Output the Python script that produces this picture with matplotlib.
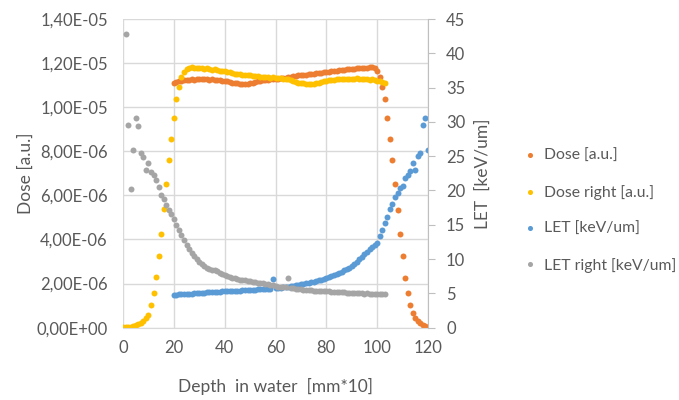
import matplotlib
matplotlib.use("Agg")
import matplotlib.pyplot as plt
from matplotlib.ticker import FuncFormatter, MultipleLocator

plt.rcParams['font.family'] = ['Lato', 'DejaVu Sans']

# ---- data ----
dose_right_x = list(range(0, 104))
dose_right = [  # units of 1e-6
    0.02, 0.02, 0.03, 0.05, 0.07, 0.10, 0.15, 0.22, 0.31, 0.42,
    0.58, 1.03, 1.59, 2.29, 3.26, 4.26, 5.38, 6.53, 7.62, 8.58,
    9.49, 10.38, 10.92, 11.35, 11.58, 11.72, 11.80, 11.82, 11.78, 11.80,
    11.77, 11.78, 11.74, 11.76, 11.72, 11.70, 11.71, 11.67, 11.66, 11.63,
    11.62, 11.60, 11.58, 11.57, 11.52, 11.50, 11.51, 11.47, 11.48, 11.45,
    11.44, 11.42, 11.40, 11.41, 11.38, 11.37, 11.36, 11.37, 11.34, 11.35,
    11.34, 11.33, 11.32, 11.30, 11.28, 11.26, 11.22, 11.18, 11.15, 11.12,
    11.10, 11.08, 11.06, 11.04, 11.06, 11.05, 11.08, 11.10, 11.14, 11.17,
    11.20, 11.22, 11.24, 11.25, 11.27, 11.26, 11.28, 11.27, 11.29, 11.30,
    11.28, 11.30, 11.31, 11.29, 11.30, 11.28, 11.27, 11.25, 11.26, 11.22,
    11.20, 11.18, 11.15, 11.12,
]

dose_x = list(range(20, 121))
dose = [  # units of 1e-6
    11.08, 11.15, 11.18, 11.20, 11.22, 11.24, 11.25, 11.26, 11.25, 11.27,
    11.26, 11.28, 11.27, 11.26, 11.25, 11.26, 11.24, 11.22, 11.22, 11.20,
    11.18, 11.17, 11.14, 11.12, 11.10, 11.08, 11.07, 11.05, 11.05, 11.06,
    11.08, 11.10, 11.14, 11.18, 11.20, 11.22, 11.24, 11.25, 11.27, 11.28,
    11.29, 11.30, 11.31, 11.32, 11.34, 11.36, 11.38, 11.40, 11.42, 11.44,
    11.45, 11.47, 11.48, 11.50, 11.51, 11.52, 11.54, 11.55, 11.57, 11.58,
    11.60, 11.61, 11.62, 11.64, 11.66, 11.67, 11.68, 11.70, 11.71, 11.72,
    11.73, 11.74, 11.76, 11.77, 11.78, 11.79, 11.80, 11.82, 11.84, 11.80,
    11.62, 11.35,
    10.90, 10.38, 9.50, 8.56, 7.62, 6.53, 5.35, 4.26, 3.23, 2.27,
    1.59, 1.03, 0.67, 0.45, 0.30, 0.20, 0.12, 0.06, 0.03,
]

let_x = list(range(20, 121))
let = [
    4.80, 4.82, 4.85, 4.88, 4.90, 4.95, 4.93, 4.98, 5.00, 5.05,
    5.08, 5.10, 5.12, 5.15, 5.18, 5.20, 5.22, 5.25, 5.27, 5.30,
    5.33, 5.35, 5.36, 5.38, 5.40, 5.40, 5.42, 5.44, 5.46, 5.48,
    5.50, 5.52, 5.55, 5.57, 5.60, 5.62, 5.64, 5.66, 5.70, 7.10,
    5.75, 5.80, 5.85, 5.90, 5.95, 6.00, 6.05, 6.10, 6.18, 6.25,
    6.32, 6.40, 6.48, 6.55, 6.62, 6.70, 6.80, 6.90, 7.00, 7.10,
    7.22, 7.35, 7.48, 7.62, 7.80, 7.95, 8.15, 8.35, 8.55, 8.75,
    9.00, 9.30, 9.60, 9.95, 10.35, 10.70, 11.10, 11.45, 11.80, 12.10,
    12.40, 13.30, 14.20, 15.20, 16.20, 17.30, 18.10, 19.10, 19.70, 20.30,
    20.60, 21.80, 22.30, 22.80, 24.00, 23.00, 25.00, 25.40, 29.50, 30.50,
    25.90,
]

let_right_x = list(range(1, 104))
let_right = [
    42.8, 29.5, 20.2, 25.9, 30.5, 29.4, 25.4, 24.9, 23.0, 24.0,
    22.7, 22.2, 21.6, 20.5, 19.4, 18.8, 17.9, 17.2, 16.6, 15.8,
    14.9, 14.2, 13.5, 12.8, 12.1, 11.4, 10.9, 10.4, 9.95, 9.6,
    9.25, 8.95, 8.75, 8.6, 8.45, 8.35, 8.2, 8.0, 7.85, 7.65,
    7.5, 7.4, 7.3, 7.2, 7.1, 7.0, 6.95, 6.9, 6.85, 6.8,
    6.72, 6.65, 6.58, 6.5, 6.45, 6.4, 6.35, 6.25, 6.2, 6.1,
    6.0, 5.95, 5.92, 5.88, 7.2, 5.8, 5.75, 5.7, 5.62, 5.58,
    5.52, 5.5, 5.46, 5.44, 5.42, 5.4, 5.38, 5.35, 5.32, 5.3,
    5.28, 5.25, 5.22, 5.2, 5.2, 5.18, 5.15, 5.12, 5.1, 5.08,
    5.05, 5.05, 5.02, 5.0, 4.98, 5.0, 4.95, 4.92, 4.93, 4.9,
    4.9, 4.88, 4.87,
]

# ---- styling ----
C_DOSE = '#ED7D31'
C_DOSE_R = '#FFC000'
C_LET = '#5B9BD5'
C_LET_R = '#A5A5A5'
TXT = '#595959'
GRID = '#D9D9D9'
FS_TICK = 12
FS_LAB = 12.5
FS_LEG = 11.3

fig = plt.figure(figsize=(6.79, 4.0), dpi=100)
ax = fig.add_axes([123/679, 1-327.7/400, (428-123)/679, (327.7-19)/400])
ax2 = ax.twinx()

ms = 4.3
h1, = ax.plot(dose_x, [v*1e-6 for v in dose], 'o', color=C_DOSE, ms=ms, mec='none', label='Dose [a.u.]')
h2, = ax.plot(dose_right_x, [v*1e-6 for v in dose_right], 'o', color=C_DOSE_R, ms=ms, mec='none', label='Dose right [a.u.]')
h3, = ax2.plot(let_x, let, 'o', color=C_LET, ms=ms, mec='none', label='LET [keV/um]')
h4, = ax2.plot(let_right_x, let_right, 'o', color=C_LET_R, ms=ms, mec='none', label='LET right [keV/um]')

ax.set_xlim(0, 120)
ax.set_ylim(0, 1.4e-5)
ax2.set_ylim(0, 45)
ax.xaxis.set_major_locator(MultipleLocator(20))
ax.yaxis.set_major_locator(MultipleLocator(2e-6))
ax2.yaxis.set_major_locator(MultipleLocator(5))
ax.yaxis.set_major_formatter(FuncFormatter(lambda v, p: f"{v:.2E}".replace('.', ',')))

ax.grid(True, color=GRID, lw=1.0)
ax.set_axisbelow(True)
for s in ['top', 'right', 'left']:
    ax.spines[s].set_visible(False)
ax.spines['bottom'].set_color(GRID)
for s in ['top', 'left', 'bottom']:
    ax2.spines[s].set_visible(False)
ax2.spines['right'].set_color('#BFBFBF')

ax.tick_params(axis='y', length=0, colors=TXT, labelsize=FS_TICK, pad=11)
ax.tick_params(axis='x', length=0, colors=TXT, labelsize=FS_TICK, pad=9)
ax2.tick_params(axis='y', length=5, color='#BFBFBF', labelcolor=TXT, labelsize=FS_TICK, pad=8)

ax.set_xlabel('Depth  in water  [mm*10]', color=TXT, fontsize=FS_LAB, labelpad=16)
ax.set_ylabel('Dose [a.u.]', color=TXT, fontsize=FS_LAB, labelpad=2)
ax2.set_ylabel('LET  [keV/um]', color=TXT, fontsize=FS_LAB, labelpad=7)

leg = fig.legend(handles=[h1, h2, h3, h4], loc='center left',
                 bbox_to_anchor=(511/679, 1-211/400), frameon=False,
                 fontsize=FS_LEG, labelcolor=TXT, markerscale=0.85,
                 handlelength=0.6, handletextpad=0.6, labelspacing=1.4)

fig.savefig('out.png', dpi=100)
